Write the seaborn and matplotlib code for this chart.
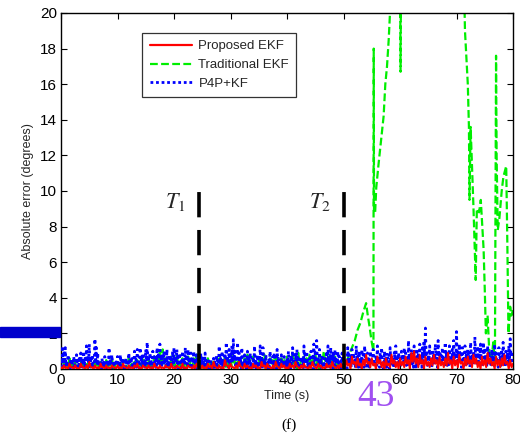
import numpy as np
import pandas as pd
import matplotlib
matplotlib.use("Agg")
import matplotlib.pyplot as plt
import seaborn as sns
from matplotlib.lines import Line2D
from matplotlib.patches import Rectangle

# ---------------- data ----------------
series_names = ["Proposed EKF", "Traditional EKF", "P4P+KF"]
series_colors = ["#ff0000", "#00ee00", "#0000ff"]

# P4P+KF: local peaks every 0.25 s (0..80 s) and the dips between them
blue_step = 0.25
blue_peaks = [
    0.6,1.3,0.9,1.2,0.5,0.8,0.3,0.6,0.4,0.7,0.2,0.8,0.5,0.6,0.9,0.4,1.0,0.6,1.3,0.7,
    1.4,0.5,0.8,0.4,1.7,1.2,0.9,0.5,0.3,0.6,0.4,0.7,0.2,0.5,1.2,0.6,0.8,0.3,0.5,0.4,
    0.7,0.3,0.8,0.5,0.6,0.2,0.6,0.4,0.9,0.5,0.7,0.3,1.0,0.6,1.1,0.4,1.2,0.7,0.9,0.5,
    1.1,1.5,0.6,0.9,0.4,1.0,0.7,0.5,1.2,0.8,1.4,0.6,0.9,1.0,0.5,1.1,0.4,0.8,0.6,1.0,
    1.2,0.5,1.1,0.7,0.9,0.4,1.0,0.6,1.2,0.8,1.1,0.5,0.9,0.7,1.0,0.4,0.8,0.6,0.3,0.9,
    0.7,0.4,0.9,0.3,0.6,0.2,0.5,0.3,0.6,0.4,0.8,0.5,1.3,0.6,1.0,0.4,0.9,1.5,0.7,1.1,
    0.8,1.3,1.65,1.0,0.6,1.5,0.9,0.7,1.2,0.4,0.8,0.5,1.0,0.6,0.9,0.3,0.7,1.3,0.5,0.8,
    0.4,1.3,0.7,1.2,0.5,0.8,0.3,0.6,1.0,0.4,0.7,0.9,0.5,1.1,0.6,0.4,0.8,0.5,0.7,0.3,
    0.6,1.0,0.5,0.8,1.2,0.4,0.9,1.1,0.6,0.3,0.7,0.5,1.3,0.8,1.0,0.4,0.6,1.0,0.7,1.4,
    0.9,1.6,0.7,1.1,0.5,0.8,0.4,0.6,1.0,1.3,0.5,1.2,0.8,1.0,1.1,0.6,1.0,0.7,0.4,0.9,
    0.3,0.6,0.5,1.2,0.8,0.6,1.1,0.9,0.5,1.3,0.7,1.0,0.6,1.1,0.8,1.3,0.5,0.9,0.7,1.0,
    0.6,1.1,0.5,0.8,1.3,0.6,0.9,1.2,0.4,1.0,0.7,0.9,0.5,1.2,0.8,0.6,1.0,1.3,0.7,0.9,
    0.5,1.0,0.7,1.2,0.9,0.6,1.6,0.8,1.1,0.7,1.3,0.5,1.0,0.9,1.4,0.7,1.2,1.6,2.3,1.0,
    0.8,1.3,0.6,1.1,0.9,1.4,0.7,1.6,1.0,0.8,1.2,0.6,1.5,1.0,0.8,1.3,0.7,1.1,1.6,0.9,
    2.1,1.0,1.4,0.8,1.2,0.6,1.3,0.9,1.1,0.7,1.5,0.8,1.0,1.8,0.9,1.3,1.1,1.4,0.8,1.5,
    1.2,0.7,1.3,1.0,0.6,1.1,0.8,1.4,0.9,0.6,1.2,0.8,1.1,1.5,0.7,1.0,0.9,1.3,1.7,1.0,
    0.8,
]
blue_dips = [
    0.1,0.3,0.0,0.2,0.1,0.4,0.0,0.2,0.1,0.3,0.0,0.1,0.2,0.0,0.3,0.1,0.2,0.0,0.4,0.1,
    0.2,0.0,0.3,0.1,0.5,0.2,0.0,0.1,0.0,0.2,0.1,0.3,0.0,0.1,0.2,0.0,0.3,0.1,0.0,0.2,
    0.1,0.0,0.2,0.1,0.0,0.1,0.2,0.0,0.3,0.1,0.2,0.0,0.3,0.1,0.2,0.0,0.4,0.1,0.2,0.0,
    0.3,0.4,0.1,0.2,0.0,0.3,0.1,0.0,0.4,0.2,0.3,0.1,0.2,0.3,0.0,0.2,0.1,0.3,0.0,0.2,
    0.4,0.1,0.3,0.0,0.2,0.1,0.3,0.0,0.4,0.1,0.3,0.0,0.2,0.1,0.3,0.0,0.2,0.1,0.0,0.2,
    0.1,0.0,0.2,0.0,0.1,0.0,0.2,0.0,0.1,0.0,0.2,0.1,0.3,0.0,0.2,0.1,0.3,0.4,0.1,0.2,
    0.3,0.4,0.5,0.2,0.1,0.4,0.2,0.0,0.3,0.1,0.2,0.0,0.3,0.1,0.2,0.0,0.1,0.3,0.0,0.2,
    0.1,0.3,0.0,0.2,0.1,0.3,0.0,0.1,0.3,0.0,0.2,0.1,0.0,0.3,0.1,0.0,0.2,0.1,0.2,0.0,
    0.1,0.3,0.0,0.2,0.4,0.1,0.2,0.3,0.0,0.1,0.2,0.0,0.3,0.1,0.2,0.0,0.1,0.3,0.0,0.4,
    0.2,0.5,0.1,0.3,0.0,0.2,0.1,0.0,0.3,0.2,0.1,0.4,0.0,0.2,0.3,0.1,0.2,0.0,0.1,0.0,
    0.1,0.2,0.0,0.3,0.2,0.1,0.4,0.2,0.0,0.3,0.1,0.2,0.0,0.3,0.1,0.4,0.0,0.2,0.1,0.3,
    0.2,0.4,0.1,0.2,0.5,0.1,0.3,0.4,0.0,0.2,0.1,0.3,0.0,0.4,0.2,0.1,0.3,0.5,0.1,0.2,
    0.1,0.3,0.2,0.4,0.2,0.1,0.5,0.2,0.3,0.1,0.4,0.0,0.2,0.3,0.5,0.1,0.4,0.6,0.8,0.2,
    0.3,0.5,0.1,0.3,0.2,0.6,0.1,0.5,0.3,0.2,0.4,0.1,0.5,0.2,0.1,0.4,0.2,0.3,0.6,0.2,
    0.7,0.3,0.5,0.1,0.4,0.2,0.5,0.3,0.4,0.1,0.6,0.2,0.3,0.7,0.2,0.4,0.3,0.5,0.1,0.6,
    0.4,0.1,0.5,0.3,0.1,0.4,0.2,0.5,0.3,0.1,0.4,0.2,0.3,0.6,0.1,0.3,0.2,0.4,0.7,0.3,
]

# Proposed EKF: peaks every 0.5 s (0..80 s) and dips between them
red_step = 0.5
red_peaks = [
    0.1,0.2,0.1,0.3,0.1,0.2,0.05,0.3,0.1,0.2,0.4,0.1,0.2,0.1,0.3,0.1,0.2,0.1,0.2,0.1,
    0.2,0.1,0.3,0.1,0.2,0.1,0.2,0.3,0.1,0.2,0.1,0.2,0.1,0.3,0.1,0.2,0.1,0.2,0.1,0.3,
    0.1,0.2,0.1,0.3,0.1,0.2,0.1,0.2,0.3,0.1,0.2,0.1,0.3,0.2,0.4,0.1,0.2,0.1,0.5,0.2,
    0.3,0.1,0.2,0.4,0.1,0.3,0.2,0.1,0.3,0.2,0.1,0.4,0.2,0.3,0.1,0.2,0.4,0.1,0.3,0.2,
    0.1,0.3,0.2,0.4,0.1,0.2,0.3,0.1,0.2,0.4,0.1,0.3,0.2,0.1,0.3,0.2,0.4,0.1,0.2,0.3,
    0.2,0.5,0.3,0.7,0.4,0.6,0.3,0.5,0.8,0.4,0.6,0.3,0.7,0.5,0.4,0.6,0.3,0.8,0.5,0.4,
    0.6,0.4,0.7,0.5,0.9,1.0,0.6,0.8,0.5,0.7,0.4,0.6,0.8,0.5,0.7,0.4,0.6,0.9,0.5,0.7,
    0.5,0.8,0.4,0.6,0.7,0.5,0.8,0.6,0.4,0.7,0.5,0.9,0.6,0.4,0.7,0.5,0.6,0.8,0.4,0.5,
    0.3,
]
red_dips = [
    0.0,0.05,0.0,0.1,0.0,0.05,0.0,0.1,0.0,0.05,0.1,0.0,0.05,0.0,0.1,0.0,0.05,0.0,0.1,0.0,
    0.05,0.0,0.1,0.0,0.05,0.0,0.1,0.05,0.0,0.1,0.0,0.05,0.0,0.1,0.0,0.05,0.0,0.1,0.0,0.05,
    0.0,0.1,0.0,0.05,0.0,0.1,0.0,0.05,0.1,0.0,0.05,0.0,0.1,0.0,0.15,0.0,0.05,0.0,0.2,0.0,
    0.1,0.0,0.05,0.15,0.0,0.1,0.05,0.0,0.1,0.05,0.0,0.15,0.0,0.1,0.0,0.05,0.15,0.0,0.1,0.0,
    0.0,0.1,0.05,0.15,0.0,0.05,0.1,0.0,0.05,0.15,0.0,0.1,0.05,0.0,0.1,0.05,0.15,0.0,0.05,0.1,
    0.05,0.2,0.0,0.3,0.1,0.2,0.0,0.2,0.3,0.1,0.2,0.0,0.3,0.1,0.0,0.2,0.1,0.3,0.1,0.0,
    0.2,0.1,0.3,0.0,0.4,0.3,0.1,0.3,0.0,0.2,0.1,0.2,0.3,0.0,0.2,0.1,0.2,0.3,0.0,0.2,
    0.1,0.3,0.0,0.2,0.3,0.1,0.3,0.1,0.0,0.2,0.1,0.3,0.2,0.0,0.2,0.1,0.2,0.3,0.0,0.1,
]

# Traditional EKF: 0 to 49.5 s every 0.5 s (peaks) and dips between them
green_step = 0.5
green_peaks = [
    0.3,0.5,0.2,0.6,0.3,0.4,0.2,0.5,0.3,0.4,0.6,0.2,0.5,0.3,0.4,0.2,0.5,0.3,0.6,0.2,
    0.4,0.3,0.5,0.2,0.6,0.3,0.4,0.5,0.3,0.6,0.4,0.5,0.3,0.7,0.4,1.0,1.1,0.6,0.4,0.7,
    0.5,0.8,0.4,0.6,0.3,0.7,0.5,0.6,0.8,0.4,0.5,0.3,0.6,0.4,0.5,0.3,0.6,0.4,0.7,0.5,
    0.6,0.8,0.5,0.7,0.4,0.6,0.8,0.5,0.7,0.4,0.6,0.5,0.8,0.4,0.6,0.5,0.7,0.4,0.6,0.5,
    0.7,0.5,0.8,0.6,0.9,0.5,0.7,0.6,0.8,0.5,0.9,0.6,0.7,1.0,0.6,0.8,0.5,0.7,0.4,0.3,
]
green_dips = [
    0.0,0.1,0.0,0.2,0.1,0.0,0.1,0.0,0.2,0.0,0.1,0.0,0.2,0.1,0.0,0.1,0.0,0.2,0.0,0.1,
    0.1,0.0,0.2,0.0,0.1,0.0,0.2,0.1,0.0,0.2,0.1,0.0,0.2,0.1,0.3,0.4,0.2,0.1,0.0,0.2,
    0.1,0.2,0.0,0.1,0.0,0.2,0.1,0.0,0.2,0.1,0.0,0.1,0.2,0.0,0.1,0.0,0.2,0.1,0.0,0.2,
    0.1,0.3,0.0,0.2,0.1,0.0,0.3,0.1,0.2,0.0,0.1,0.2,0.0,0.1,0.2,0.0,0.1,0.0,0.2,0.1,
    0.2,0.1,0.3,0.0,0.2,0.1,0.3,0.0,0.2,0.1,0.3,0.0,0.2,0.4,0.1,0.2,0.0,0.1,0.0,0.1,
]
# Traditional EKF after 50 s (irregular times; values above 20 are off the chart)
green_late_t = [50.0,50.5,51.0,51.5,52.0,52.5,53.0,53.5,54.0,54.3,54.6,55.0,55.3,
                55.35,55.4,55.6,55.8,56.2,56.7,57.1,57.4,57.7,58.0,58.3,59.0,60.0,
                60.1,60.2,65.0,71.2,71.5,71.7,72.0,72.2,72.3,72.5,72.8,73.0,73.4,
                73.6,74.0,74.3,74.8,75.0,75.2,75.5,75.8,76.2,76.5,76.8,77.0,77.1,
                77.3,77.6,78.0,78.3,78.8,79.0,79.2,79.5,79.7,80.0]
green_late_v = [0.2,0.4,0.8,1.2,1.6,2.2,2.6,3.2,3.7,3.0,2.4,1.5,1.0,
                18.0,9.0,8.8,10.2,11.5,13.0,14.2,16.0,17.0,18.5,20.5,25.0,24.0,
                16.7,24.0,26.0,24.0,19.0,17.8,16.0,13.6,9.5,13.6,11.0,9.1,5.0,
                9.0,8.8,9.5,6.7,4.5,2.0,3.0,1.0,0.5,1.5,0.3,17.6,12.0,
                7.8,8.5,10.0,10.8,11.4,7.0,2.0,3.5,3.0,3.3]

event_times = [24.5, 50.0]
event_labels = ["T", "T"]
event_subs = ["1", "2"]

x_ticks = [0, 10, 20, 30, 40, 50, 60, 70, 80]
y_ticks = [0, 2, 4, 6, 8, 10, 12, 14, 16, 18, 20]


def interleave(peaks, dips, step):
    t, v = [], []
    for i, p in enumerate(peaks):
        t.append(i * step)
        v.append(p)
        if i < len(dips):
            t.append(i * step + step / 2)
            v.append(dips[i])
    return t, v


# ---------------- build tables ----------------
bt, bv = interleave(blue_peaks, blue_dips, blue_step)
rt, rv = interleave(red_peaks, red_dips, red_step)
gt, gv = interleave(green_peaks, green_dips, green_step)
df_blue = pd.DataFrame({"t": bt, "err": bv})
df_red = pd.DataFrame({"t": rt, "err": rv})
df_green = pd.DataFrame({"t": gt + green_late_t, "err": gv + green_late_v})

# ---------------- plot ----------------
sns.set_style("ticks")
plt.rcParams["font.family"] = ["Liberation Sans", "DejaVu Sans"]

fig = plt.figure(figsize=(5.2, 4.37), dpi=100)
ax = fig.add_axes([61/520, 68/437, 452/520, 356/437])

sns.lineplot(data=df_green, x="t", y="err", ax=ax, color=series_colors[1],
             lw=1.6, estimator=None, sort=False, linestyle=(0, (3.5, 1.5)), zorder=2)
sns.lineplot(data=df_blue, x="t", y="err", ax=ax, color=series_colors[2],
             lw=2.0, estimator=None, sort=False, linestyle=(0, (1, 1.3)), zorder=3)
sns.lineplot(data=df_red, x="t", y="err", ax=ax, color=series_colors[0],
             lw=1.4, estimator=None, sort=False, zorder=4)

for tx, lab, sub in zip(event_times, event_labels, event_subs):
    ax.plot([tx, tx], [0, 10.2], color="black", lw=2.6,
            linestyle=(0, (7, 3.5)), zorder=5)
    ax.text(tx - 4.2, 9.4, rf"${lab}_{{{sub}}}$", fontsize=16, ha="center",
            va="center", family="DejaVu Serif", math_fontfamily="stix")

ax.set_xlim(0, 80)
ax.set_ylim(0, 20)
ax.set_xticks(x_ticks)
ax.set_yticks(y_ticks)
ax.tick_params(direction="in", length=4, width=0.8, top=True, right=True,
               labelsize=11, pad=3, colors="black")
for s in ax.spines.values():
    s.set_color("black")
    s.set_linewidth(1.0)
ax.set_xlabel("Time (s)", fontsize=9, labelpad=2)
ax.set_ylabel("Absolute error (degrees)", fontsize=9, labelpad=4)

handles = [
    Line2D([0], [0], color=series_colors[0], lw=1.6),
    Line2D([0], [0], color=series_colors[1], lw=1.6, linestyle=(0, (3.5, 1.5))),
    Line2D([0], [0], color=series_colors[2], lw=2.0, linestyle=(0, (1, 1))),
]
leg = ax.legend(handles, series_names, loc="upper left",
                bbox_to_anchor=(0.18, 0.944), fontsize=9.5, frameon=True,
                fancybox=False, handlelength=3.2, borderpad=0.55,
                labelspacing=0.5, handletextpad=0.5, borderaxespad=0)
leg.get_frame().set_edgecolor("black")
leg.get_frame().set_linewidth(0.9)

# page decorations visible in the scan
fig.patches.append(Rectangle((0, 1 - 337/437), 60/520, 10/437,
                             transform=fig.transFigure, color="#0000cc", zorder=0))
fig.text(376/520, 1 - 397/437, "43", fontsize=27, color="#a050f0",
         family="Liberation Serif", ha="center", va="center")
fig.text(289/520, 1 - 425/437, "(f)", fontsize=11, color="black",
         family="Liberation Serif", ha="center", va="center")

fig.savefig("out.png", dpi=100)
